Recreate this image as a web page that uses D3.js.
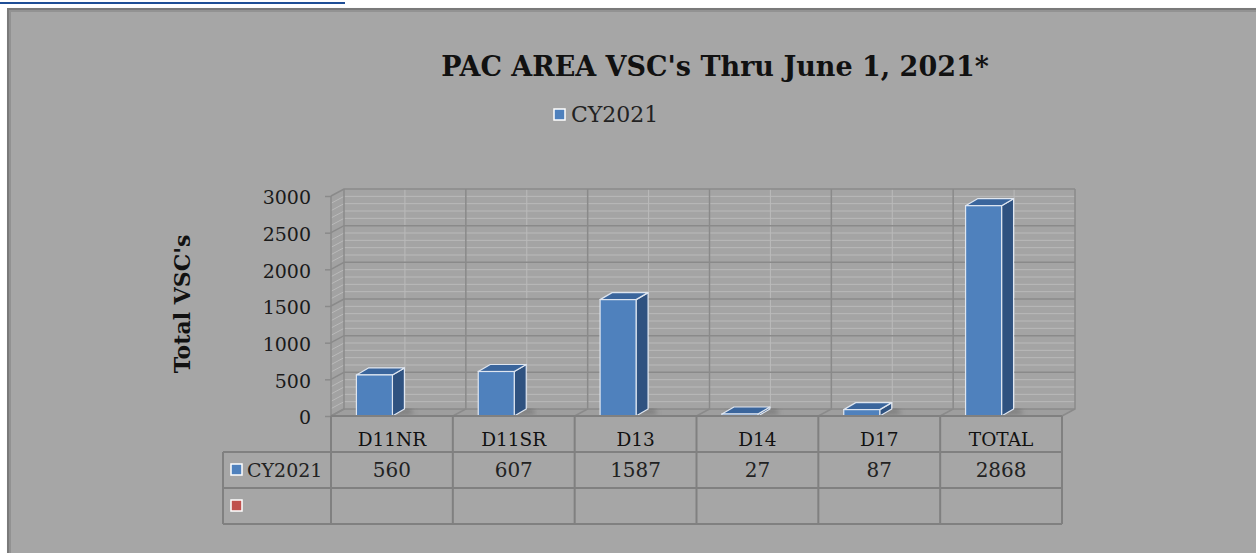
<!DOCTYPE html>
<html>
<head>
<meta charset="utf-8">
<script src="https://cdn.jsdelivr.net/npm/d3@7"></script>
<style>
  html, body { margin: 0; padding: 0; background: #ffffff; overflow: hidden; }
  text { font-family: "DejaVu Serif", "Liberation Serif", serif; }
</style>
</head>
<body>
<div id="chart"></div>
<script>
const width = 1256;
const height = 553;

// data
const categories = ["D11NR", "D11SR", "D13", "D14", "D17", "TOTAL"];
const cy2021 = [560, 607, 1587, 27, 87, 2868];
const seriesNames = ["CY2021", ""];
const seriesColors = ["#4f81bd", "#c0504d"];
const yTicks = [0, 500, 1000, 1500, 2000, 2500, 3000];
const chartTitle = "PAC AREA VSC's Thru June 1, 2021*";
const yTitle = "Total VSC's";

const bg = "#a6a6a6";
const gridDark = "#8a8a8a";
const gridLight = "#bababa";
const tableLine = "#808080";

const depthX = 13, depthY = -7;

const svg = d3.select("#chart")
  .append("svg")
  .attr("width", width)
  .attr("height", height);

const defs = svg.append("defs");
defs.append("filter").attr("id", "blur")
  .append("feGaussianBlur").attr("stdDeviation", 2.5);
defs.append("filter").attr("id", "soft")
  .append("feGaussianBlur").attr("stdDeviation", 1.5);

// page heading, mostly cut off at the top
svg.append("text")
  .attr("x", 0)
  .attr("y", -1)
  .attr("font-size", 30)
  .attr("font-weight", "bold")
  .attr("fill", "#1f4e96")
  .text("Historical Statistic");
svg.append("line")
  .attr("x1", 0).attr("x2", 345)
  .attr("y1", 3).attr("y2", 3)
  .attr("stroke", "#1f4e96").attr("stroke-width", 2);

// chart area box
svg.append("rect")
  .attr("x", 9).attr("y", 10)
  .attr("width", 1300).attr("height", 600)
  .attr("fill", "#8c8c8c")
  .attr("filter", "url(#soft)");
svg.append("rect")
  .attr("x", 8).attr("y", 9)
  .attr("width", 1300).attr("height", 600)
  .attr("fill", bg)
  .attr("stroke", "#7a7a7a")
  .attr("stroke-width", 2);
svg.append("line").attr("x1", 10).attr("x2", 10).attr("y1", 10).attr("y2", 553)
  .attr("stroke", "#929292").attr("stroke-width", 2);
svg.append("line").attr("x1", 10).attr("x2", 1256).attr("y1", 11).attr("y2", 11)
  .attr("stroke", "#929292").attr("stroke-width", 2);

// scales
const x = d3.scaleBand()
  .domain(categories)
  .range([331, 1062]);

const y = d3.scaleLinear()
  .domain([0, 3000])
  .range([416, 196]);

const x0 = x.range()[0], x1 = x.range()[1];
const yb = y(0), yt = y(3000);

// back wall
const plot = svg.append("g");
plot.append("rect")
  .attr("x", x0 + depthX).attr("y", yt + depthY)
  .attr("width", x1 - x0).attr("height", yb - yt)
  .attr("fill", "#a4a4a4");

// side wall
plot.append("path")
  .attr("d", `M${x0},${yb}L${x0},${yt}L${x0 + depthX},${yt + depthY}L${x0 + depthX},${yb + depthY}Z`)
  .attr("fill", "#a2a2a2");

// floor
plot.append("path")
  .attr("d", `M${x0},${yb}L${x1},${yb}L${x1 + depthX},${yb + depthY}L${x0 + depthX},${yb + depthY}Z`)
  .attr("fill", "#9e9e9e");

const minorTicks = d3.range(0, 3001, 100).filter(v => v % 500 !== 0);

// minor horizontal grid lines
plot.append("g")
  .selectAll("path")
  .data(minorTicks)
  .join("path")
  .attr("d", v => `M${x0},${y(v)}L${x0 + depthX},${y(v) + depthY}L${x1 + depthX},${y(v) + depthY}`)
  .attr("fill", "none")
  .attr("stroke", gridLight)
  .attr("stroke-width", 1);

// light vertical lines at category centres
plot.append("g")
  .selectAll("line")
  .data(categories)
  .join("line")
  .attr("x1", d => x(d) + x.bandwidth() / 2 + depthX)
  .attr("x2", d => x(d) + x.bandwidth() / 2 + depthX)
  .attr("y1", yt + depthY)
  .attr("y2", yb + depthY)
  .attr("stroke", gridLight)
  .attr("stroke-width", 1);

// major horizontal grid lines
plot.append("g")
  .selectAll("path")
  .data(yTicks)
  .join("path")
  .attr("d", v => `M${x0},${y(v)}L${x0 + depthX},${y(v) + depthY}L${x1 + depthX},${y(v) + depthY}`)
  .attr("fill", "none")
  .attr("stroke", gridDark)
  .attr("stroke-width", 1.5);

// category boundaries on the wall and floor
const bounds = categories.map(d => x(d)).concat([x1]);
plot.append("g")
  .selectAll("path")
  .data(bounds)
  .join("path")
  .attr("d", b => `M${b},${yb}L${b + depthX},${yb + depthY}L${b + depthX},${yt + depthY}`)
  .attr("fill", "none")
  .attr("stroke", gridDark)
  .attr("stroke-width", 1.5);

// y axis line and ticks
plot.append("line")
  .attr("x1", x0).attr("x2", x0)
  .attr("y1", yt).attr("y2", yb)
  .attr("stroke", gridDark).attr("stroke-width", 1.5);

const yAxis = d3.axisLeft(y)
  .tickValues(yTicks)
  .tickSize(6)
  .tickPadding(14)
  .tickFormat(d3.format("d"));

const yAxisG = svg.append("g")
  .attr("transform", `translate(${x0},0)`)
  .call(yAxis);
yAxisG.select(".domain").remove();
yAxisG.selectAll(".tick line").attr("stroke", gridDark).attr("stroke-width", 1.5);
yAxisG.selectAll(".tick text")
  .attr("font-family", "DejaVu Serif")
  .attr("font-size", 19)
  .attr("fill", "#1a1a1a")
  .attr("dy", "0.42em");

// y axis title
svg.append("text")
  .attr("transform", "translate(190,304) rotate(-90)")
  .attr("text-anchor", "middle")
  .attr("font-size", 22)
  .attr("font-weight", "bold")
  .attr("fill", "#111")
  .text(yTitle);

// bars
const bars = svg.append("g");
const barW = 36, barDX = 12, barDY = -7;

categories.forEach((c, i) => {
  const v = cy2021[i];
  const cx = x(c) + x.bandwidth() / 2;
  const fx0 = cx - 35.5, fx1 = fx0 + barW;
  const ty = y(v), by = y(0);
  const g = bars.append("g");

  g.append("path")
    .attr("d", `M${fx0 + 4},${by}L${fx1 + barDX + 10},${by - 2}L${fx1 + barDX + 6},${by + barDY}L${fx0 + 10},${by + barDY}Z`)
    .attr("fill", "#5e5e5e")
    .attr("opacity", 0.55)
    .attr("filter", "url(#blur)");

  g.append("path")
    .attr("d", `M${fx1},${ty}L${fx1 + barDX},${ty + barDY}L${fx1 + barDX},${by + barDY}L${fx1},${by}Z`)
    .attr("fill", "#2f5280")
    .attr("stroke", "#dfe6f0")
    .attr("stroke-width", 1.2)
    .attr("stroke-linejoin", "round");

  g.append("path")
    .attr("d", `M${fx0},${ty}L${fx0 + barDX},${ty + barDY}L${fx1 + barDX},${ty + barDY}L${fx1},${ty}Z`)
    .attr("fill", "#3a659c")
    .attr("stroke", "#dfe6f0")
    .attr("stroke-width", 1.2)
    .attr("stroke-linejoin", "round");

  g.append("rect")
    .attr("x", fx0).attr("y", ty)
    .attr("width", barW).attr("height", by - ty)
    .attr("fill", seriesColors[0])
    .attr("stroke", "#dfe6f0")
    .attr("stroke-width", 1.2);
});

// data table
const rowH = 36;
const tableTop = yb;
const legendColLeft = 223;
const table = svg.append("g");

const hLines = [
  { y: tableTop, xa: x0 },
  { y: tableTop + rowH, xa: legendColLeft },
  { y: tableTop + 2 * rowH, xa: legendColLeft },
  { y: tableTop + 3 * rowH, xa: legendColLeft }
];
table.selectAll(".hl")
  .data(hLines)
  .join("line")
  .attr("x1", d => d.xa).attr("x2", x1)
  .attr("y1", d => d.y).attr("y2", d => d.y)
  .attr("stroke", tableLine).attr("stroke-width", 2);

table.selectAll(".vl")
  .data(bounds)
  .join("line")
  .attr("x1", d => d).attr("x2", d => d)
  .attr("y1", tableTop).attr("y2", tableTop + 3 * rowH)
  .attr("stroke", tableLine).attr("stroke-width", 2);

table.append("line")
  .attr("x1", legendColLeft).attr("x2", legendColLeft)
  .attr("y1", tableTop + rowH).attr("y2", tableTop + 3 * rowH)
  .attr("stroke", tableLine).attr("stroke-width", 2);

table.selectAll(".cat")
  .data(categories)
  .join("text")
  .attr("x", d => x(d) + x.bandwidth() / 2)
  .attr("y", tableTop + 30)
  .attr("text-anchor", "middle")
  .attr("font-size", 18.5)
  .attr("fill", "#111")
  .text(d => d);

table.selectAll(".val")
  .data(cy2021)
  .join("text")
  .attr("x", (d, i) => x(categories[i]) + x.bandwidth() / 2)
  .attr("y", tableTop + rowH + 25)
  .attr("text-anchor", "middle")
  .attr("font-size", 20)
  .attr("fill", "#222")
  .text(d => d);

seriesNames.forEach((name, i) => {
  const ry = tableTop + rowH * (i + 1);
  table.append("rect")
    .attr("x", 231).attr("y", ry + 12)
    .attr("width", 11).attr("height", 11)
    .attr("fill", seriesColors[i])
    .attr("stroke", "#ffffff")
    .attr("stroke-width", 1.5);
  table.append("text")
    .attr("x", 247).attr("y", ry + 25)
    .attr("font-size", 19)
    .attr("fill", "#222")
    .text(name);
});

// title
svg.append("text")
  .attr("x", 715)
  .attr("y", 76)
  .attr("text-anchor", "middle")
  .attr("font-size", 27)
  .attr("font-weight", "bold")
  .attr("fill", "#111")
  .text(chartTitle);

// legend
const legend = svg.append("g").attr("transform", "translate(554,107)");
legend.append("rect")
  .attr("x", 0).attr("y", 2)
  .attr("width", 11).attr("height", 11)
  .attr("fill", seriesColors[0])
  .attr("stroke", "#ffffff")
  .attr("stroke-width", 1.5);
legend.append("text")
  .attr("x", 17).attr("y", 15)
  .attr("font-size", 22)
  .attr("fill", "#222")
  .text(seriesNames[0]);
</script>
</body>
</html>
